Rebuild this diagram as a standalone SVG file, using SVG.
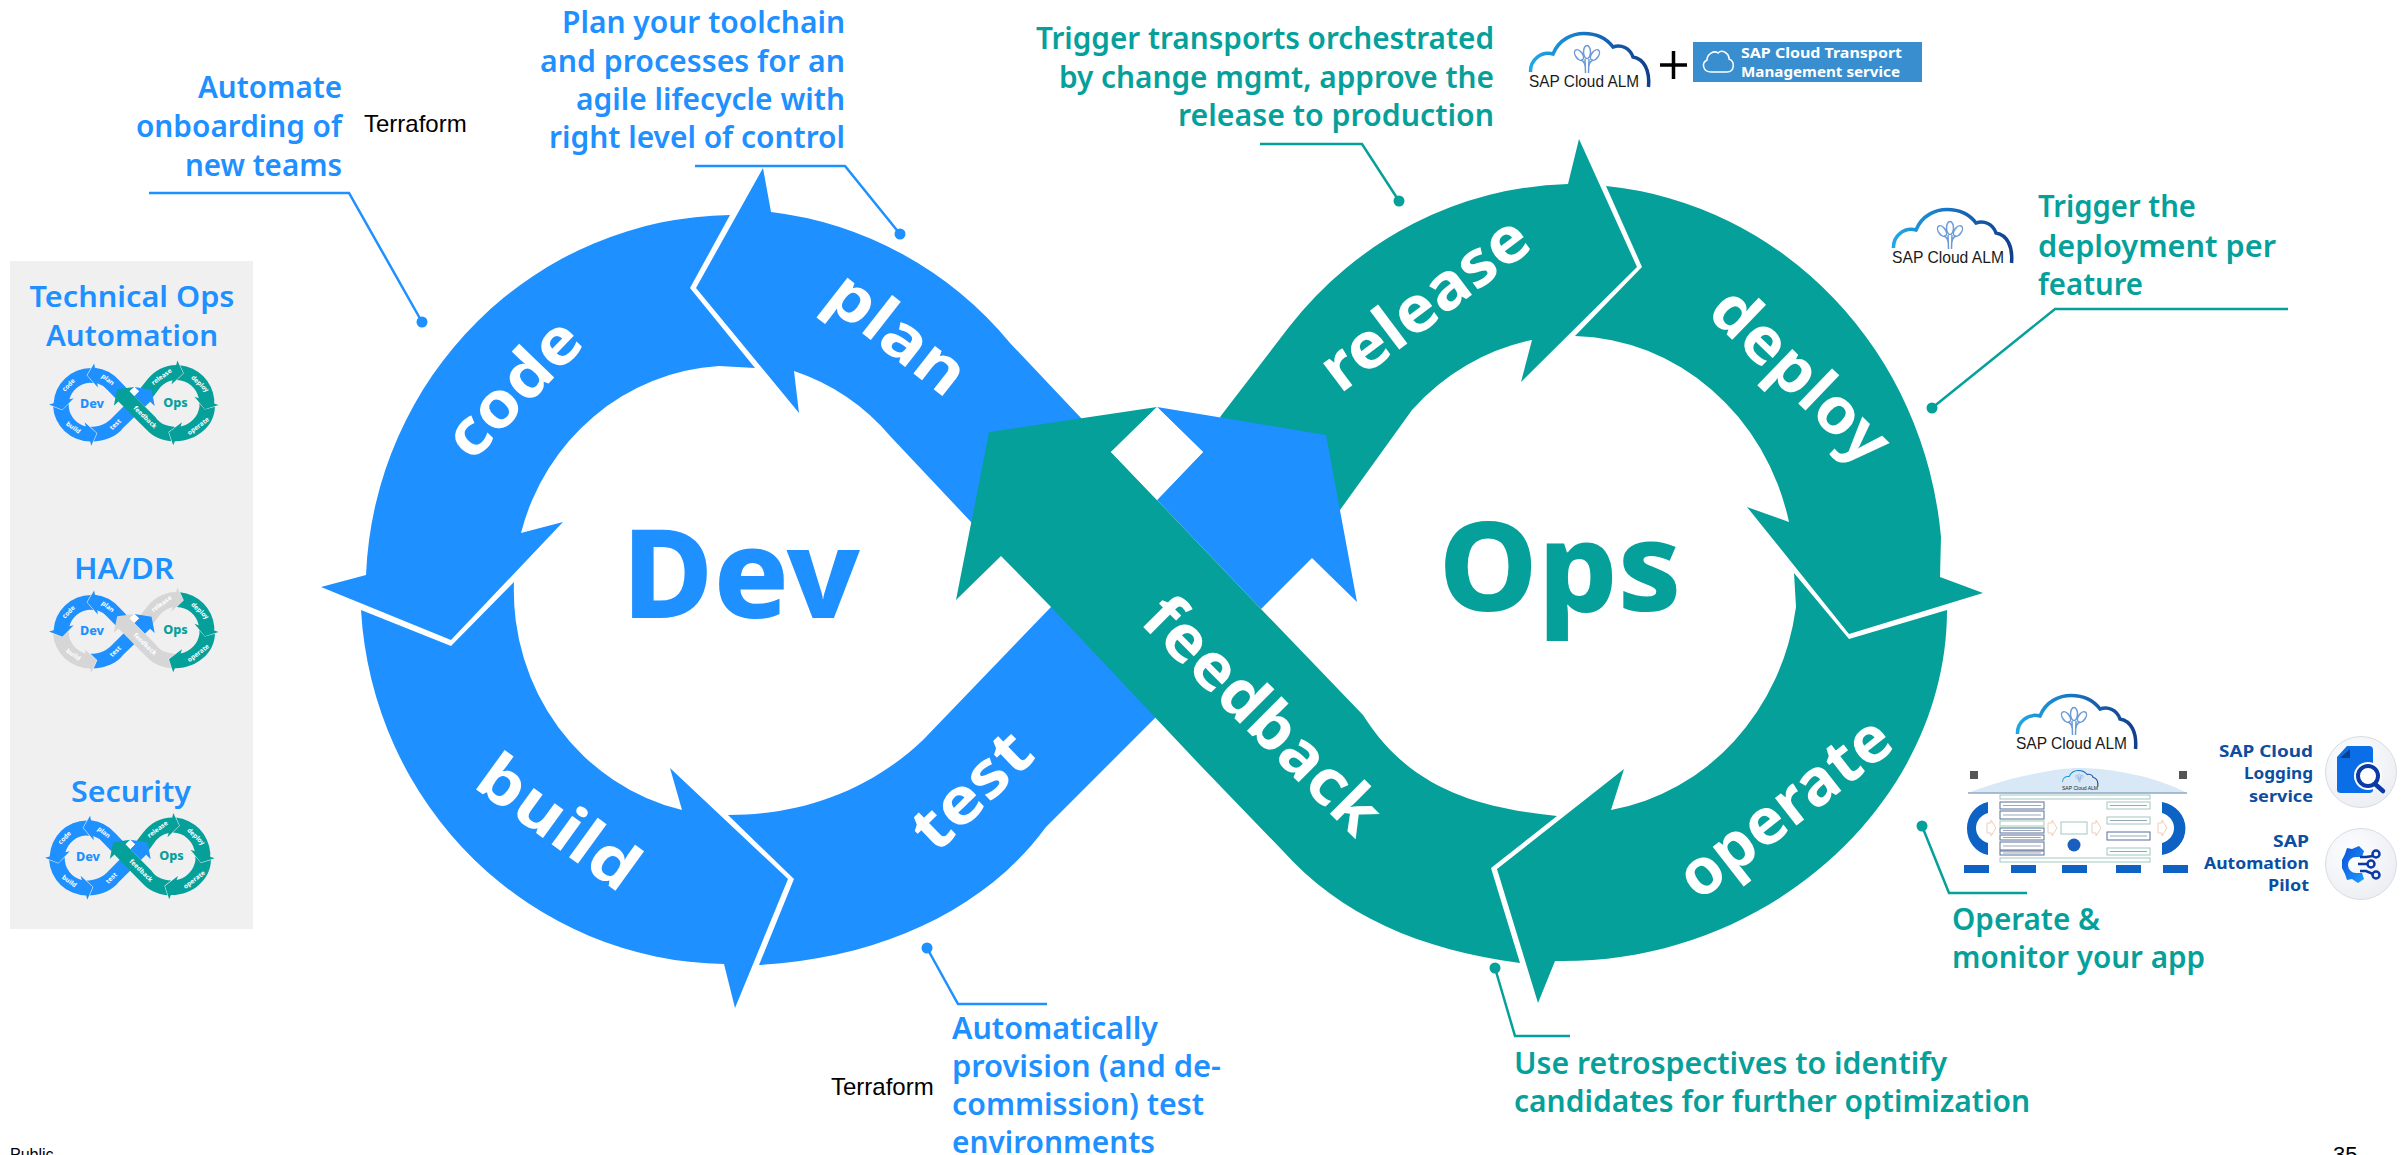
<svg xmlns="http://www.w3.org/2000/svg" xmlns:xlink="http://www.w3.org/1999/xlink" width="2408" height="1155" viewBox="0 0 2408 1155">
<style>
text{font-family:"Noto Sans","Open Sans",sans-serif}
.b{fill:#1e90ff}.t{fill:#06a09b}.g{fill:#d6d6d6}
.an{font-size:31px;font-weight:600}
.end{text-anchor:end}
.band{font-size:64px;font-weight:700;fill:#fff;text-anchor:middle}
.big{font-size:124px;font-weight:800;text-anchor:middle}
.arial{font-family:"Liberation Sans",Arial,sans-serif;fill:#000}
.side{font-size:28px;font-weight:600;fill:#1e90ff;text-anchor:middle}
.ld{fill:none;stroke-width:2.5}
.navy{fill:#0b4ea2;font-size:16px;font-weight:700;text-anchor:end}
.alm{font-family:"Liberation Sans",Arial,sans-serif;font-size:16.5px;fill:#1a1a1a}
.bx{fill:#fff;stroke:#9fc9c0;stroke-width:1}
.bn{fill:#fff;stroke:#5a6f96;stroke-width:1}
.db{fill:#0d62c4}
.ch{fill:#fff;stroke:#f0cdb8;stroke-width:1}
.tl{stroke:#9aa7b8;stroke-width:1;fill:none}
</style>
<defs>
<marker id="dot-b" markerUnits="userSpaceOnUse" markerWidth="14" markerHeight="14" refX="7" refY="7"><circle cx="7" cy="7" r="5.5" fill="#1e90ff"/></marker>
<marker id="dot-t" markerUnits="userSpaceOnUse" markerWidth="14" markerHeight="14" refX="7" refY="7"><circle cx="7" cy="7" r="5.5" fill="#06a09b"/></marker>
<linearGradient id="cg" x1="0" x2="1" y1="0" y2="0"><stop offset="0" stop-color="#1fa8e6"/><stop offset=".5" stop-color="#1670bf"/><stop offset="1" stop-color="#123f8c"/></linearGradient>
<radialGradient id="disc" cx=".4" cy=".35" r=".8"><stop offset="0" stop-color="#fff"/><stop offset="1" stop-color="#e8ebf1"/></radialGradient>
<linearGradient id="gear" x1="0" x2="1" y1="0" y2="1"><stop offset="0" stop-color="#0a50d8"/><stop offset="1" stop-color="#1e9cff"/></linearGradient>
<g id="cloud" fill="none">
<path d="M1.500 40C1 28 12 19 24 22C30 7 44 1.500 55 1.500C68 1.500 78 7 84 15C92 12 101 16 104 25C115 27 121 38 119.500 55" stroke="url(#cg)" stroke-width="3.500"/>
<g stroke="#6a9bd8" stroke-width="1.500"><ellipse cx="58" cy="20" rx="3.500" ry="6.500"/><ellipse cx="50" cy="23" rx="3.500" ry="6" transform="rotate(-35 50 23)"/><ellipse cx="66" cy="23" rx="3.500" ry="6" transform="rotate(35 66 23)"/><path d="M56 27L56.500 41M60 27L59.500 41M52 28Q56 30 56 34M64 28Q60 30 60 34"/></g>
</g>
<path id="s-plan" d="M771 212A369 376 0 0 1 1010 343L1081 418L1120 480L972 523L891 437A218 225 0 0 0 794 371L799 413L696 288L763 168Z"/>
<path id="s-code" d="M730 215A369 376 0 0 0 366 575L321 587L451 640L563 522L521 533A218 225 0 0 1 719 366L755 368L690 288Z"/>
<path id="s-build" d="M361 610A369 376 0 0 0 724 964L735 1008L788 879L670 768L682 810A218 225 0 0 1 514 582L451 646Z"/>
<path id="s-test" d="M759 965L794 879L728 815C795 815 865 795 923 740L1051 607L1110 600L1190 680L1155 718L1046 827C985 910 880 958 759 965ZM1157 407L1326 435L1357 602L1312 558L1261 609L1157 500L1203 452Z"/>
<path id="s-release" d="M1220 417L1289 327A372 389 0 0 1 1568 184L1579 139L1637 267L1521 382L1532 340A225 240 0 0 0 1412 410L1340 510L1300 500Z"/>
<path id="s-deploy" d="M1606 186A372 389 0 0 1 1941 537L1940 577L1983 593L1849 634L1747 507L1789 522A225 240 0 0 0 1575 336L1642 267Z"/>
<path id="s-operate" d="M1947 610C1947 800 1770 965 1555 961L1538 1003L1497 869L1624 769L1611 810A225 240 0 0 0 1796 607L1794 573L1849 639Z"/>
<path id="s-feedback" d="M989 432L1157 407L1111 452L1157 500L1261 609L1363 715C1410 790 1480 808 1557 816L1491 868L1520 963C1420 950 1340 915 1282 850L1200 765L1051 607L1001 556L956 600Z"/>
<path id="s-gap" d="M1157 407L1203 452L1157 500L1111 452Z"/>
</defs>
<rect width="2408" height="1155" fill="#fff"/>

<g id="side-panel"><rect x="10" y="261" width="243" height="668" fill="#f0f0f0"/>
<text class="side" x="132" y="307" textLength="205" lengthAdjust="spacingAndGlyphs">Technical Ops</text><text class="side" x="132" y="346" textLength="172" lengthAdjust="spacingAndGlyphs">Automation</text>
<text class="side" x="124" y="579" textLength="100" lengthAdjust="spacingAndGlyphs">HA/DR</text><text class="side" x="131" y="802" textLength="120" lengthAdjust="spacingAndGlyphs">Security</text></g>

<g id="mini-technical-ops" transform="translate(16.300 347) scale(.102 .098)">
<use href="#s-plan" class="b"/><use href="#s-release" class="t"/><use href="#s-test" class="b"/><use href="#s-feedback" class="t"/><use href="#s-deploy" class="t"/><use href="#s-operate" class="t"/><use href="#s-code" class="b"/><use href="#s-build" class="b"/><use href="#s-gap" fill="#fff"/>
<text class="big b" x="742" y="618">Dev</text><text class="big t" x="1560" y="610">Ops</text>
<text class="band" transform="translate(514 389) rotate(-46)" y="20">code</text><text class="band" transform="translate(897 334) rotate(38)" y="20">plan</text><text class="band" transform="translate(558 823) rotate(36)" y="20">build</text><text class="band" transform="translate(972 791) rotate(-44)" y="20">test</text><text class="band" transform="translate(1425 304) rotate(-37)" y="20">release</text><text class="band" transform="translate(1800 376) rotate(44)" y="20">deploy</text><text class="band" transform="translate(1262 716) rotate(45)" y="20">feedback</text><text class="band" transform="translate(1785 808) rotate(-38)" y="20">operate</text>
</g>
<g id="mini-ha-dr" transform="translate(16.300 574) scale(.102 .098)">
<use href="#s-plan" class="b"/><use href="#s-release" class="g"/><use href="#s-test" class="b"/><use href="#s-feedback" class="g"/><use href="#s-deploy" class="t"/><use href="#s-operate" class="t"/><use href="#s-code" class="b"/><use href="#s-build" class="g"/><use href="#s-gap" fill="#fff"/>
<text class="big b" x="742" y="618">Dev</text><text class="big t" x="1560" y="610">Ops</text>
<text class="band" transform="translate(514 389) rotate(-46)" y="20">code</text><text class="band" transform="translate(897 334) rotate(38)" y="20">plan</text><text class="band" transform="translate(558 823) rotate(36)" y="20">build</text><text class="band" transform="translate(972 791) rotate(-44)" y="20">test</text><text class="band" transform="translate(1425 304) rotate(-37)" y="20">release</text><text class="band" transform="translate(1800 376) rotate(44)" y="20">deploy</text><text class="band" transform="translate(1262 716) rotate(45)" y="20">feedback</text><text class="band" transform="translate(1785 808) rotate(-38)" y="20">operate</text>
</g>
<g id="mini-security" transform="translate(12.300 799) scale(.102 .1)">
<use href="#s-plan" class="b"/><use href="#s-release" class="t"/><use href="#s-test" class="b"/><use href="#s-feedback" class="t"/><use href="#s-deploy" class="t"/><use href="#s-operate" class="t"/><use href="#s-code" class="b"/><use href="#s-build" class="b"/><use href="#s-gap" fill="#fff"/>
<text class="big b" x="742" y="618">Dev</text><text class="big t" x="1560" y="610">Ops</text>
<text class="band" transform="translate(514 389) rotate(-46)" y="20">code</text><text class="band" transform="translate(897 334) rotate(38)" y="20">plan</text><text class="band" transform="translate(558 823) rotate(36)" y="20">build</text><text class="band" transform="translate(972 791) rotate(-44)" y="20">test</text><text class="band" transform="translate(1425 304) rotate(-37)" y="20">release</text><text class="band" transform="translate(1800 376) rotate(44)" y="20">deploy</text><text class="band" transform="translate(1262 716) rotate(45)" y="20">feedback</text><text class="band" transform="translate(1785 808) rotate(-38)" y="20">operate</text>
</g>

<g id="node-plan"><use href="#s-plan" class="b"/><text class="band" transform="translate(897 334) rotate(38)" y="21" textLength="158" lengthAdjust="spacingAndGlyphs">plan</text></g>
<g id="node-release"><use href="#s-release" class="t"/><text class="band" transform="translate(1425 304) rotate(-37)" y="21" textLength="244" lengthAdjust="spacingAndGlyphs">release</text></g>
<g id="node-test"><use href="#s-test" class="b"/><text class="band" transform="translate(972 791) rotate(-44)" y="21" textLength="141" lengthAdjust="spacingAndGlyphs">test</text></g>
<g id="node-feedback"><use href="#s-feedback" class="t"/><text class="band" transform="translate(1262 716) rotate(45)" y="21" textLength="307" lengthAdjust="spacingAndGlyphs">feedback</text><use href="#s-gap" fill="#fff"/></g>
<g id="node-deploy"><use href="#s-deploy" class="t"/><text class="band" transform="translate(1800 376) rotate(44)" y="21" textLength="222" lengthAdjust="spacingAndGlyphs">deploy</text></g>
<g id="node-operate"><use href="#s-operate" class="t"/><text class="band" transform="translate(1785 808) rotate(-38)" y="21" textLength="252" lengthAdjust="spacingAndGlyphs">operate</text></g>
<g id="node-code"><use href="#s-code" class="b"/><text class="band" transform="translate(514 389) rotate(-46)" y="21" textLength="166" lengthAdjust="spacingAndGlyphs">code</text></g>
<g id="node-build"><use href="#s-build" class="b"/><text class="band" transform="translate(558 823) rotate(36)" y="21" textLength="183" lengthAdjust="spacingAndGlyphs">build</text></g>
<g id="node-dev"><text class="big b" x="741" y="618" textLength="238" lengthAdjust="spacingAndGlyphs">Dev</text></g>
<g id="node-ops"><text class="big t" x="1560" y="611" textLength="243" lengthAdjust="spacingAndGlyphs">Ops</text></g>

<g id="connectors">
<path class="ld" stroke="#1e90ff" marker-end="url(#dot-b)" d="M149 193H349L422 322"/>
<path class="ld" stroke="#1e90ff" marker-end="url(#dot-b)" d="M695 166H845L900 234"/>
<path class="ld" stroke="#1e90ff" marker-end="url(#dot-b)" d="M1047 1004H958L927 948"/>
<path class="ld" stroke="#06a09b" marker-end="url(#dot-t)" d="M1260 144H1362L1399 201"/>
<path class="ld" stroke="#06a09b" marker-end="url(#dot-t)" d="M2288 309H2055L1932 408"/>
<path class="ld" stroke="#06a09b" marker-end="url(#dot-t)" d="M2027 893H1949L1922 826"/>
<path class="ld" stroke="#06a09b" marker-end="url(#dot-t)" d="M1570 1036H1515L1495 968"/>
</g>

<g id="note-automate" class="b"><text class="an end" x="342" y="98" textLength="144" lengthAdjust="spacingAndGlyphs">Automate</text><text class="an end" x="342" y="137" textLength="206" lengthAdjust="spacingAndGlyphs">onboarding of</text><text class="an end" x="342" y="176" textLength="157" lengthAdjust="spacingAndGlyphs">new teams</text></g>
<g id="note-plan" class="b"><text class="an end" x="845" y="33" textLength="283" lengthAdjust="spacingAndGlyphs">Plan your toolchain</text><text class="an end" x="845" y="72" textLength="305" lengthAdjust="spacingAndGlyphs">and processes for an</text><text class="an end" x="845" y="110" textLength="269" lengthAdjust="spacingAndGlyphs">agile lifecycle with</text><text class="an end" x="845" y="148" textLength="296" lengthAdjust="spacingAndGlyphs">right level of control</text></g>
<g id="note-release" class="t"><text class="an end" x="1494" y="49" textLength="458" lengthAdjust="spacingAndGlyphs">Trigger transports orchestrated</text><text class="an end" x="1494" y="88" textLength="435" lengthAdjust="spacingAndGlyphs">by change mgmt, approve the</text><text class="an end" x="1494" y="126" textLength="316" lengthAdjust="spacingAndGlyphs">release to production</text></g>
<g id="note-deploy" class="t"><text class="an" x="2038" y="217" textLength="158" lengthAdjust="spacingAndGlyphs">Trigger the</text><text class="an" x="2038" y="257" textLength="238" lengthAdjust="spacingAndGlyphs">deployment per</text><text class="an" x="2038" y="295" textLength="105" lengthAdjust="spacingAndGlyphs">feature</text></g>
<g id="note-test" class="b"><text class="an" x="952" y="1039" textLength="206" lengthAdjust="spacingAndGlyphs">Automatically</text><text class="an" x="952" y="1077" textLength="269" lengthAdjust="spacingAndGlyphs">provision (and de-</text><text class="an" x="952" y="1115" textLength="252" lengthAdjust="spacingAndGlyphs">commission) test</text><text class="an" x="952" y="1153" textLength="203" lengthAdjust="spacingAndGlyphs">environments</text></g>
<g id="note-feedback" class="t"><text class="an" x="1514" y="1074" textLength="433" lengthAdjust="spacingAndGlyphs">Use retrospectives to identify</text><text class="an" x="1514" y="1112" textLength="516" lengthAdjust="spacingAndGlyphs">candidates for further optimization</text></g>
<g id="note-operate" class="t"><text class="an" x="1952" y="930" textLength="148" lengthAdjust="spacingAndGlyphs">Operate &amp;</text><text class="an" x="1952" y="968" textLength="253" lengthAdjust="spacingAndGlyphs">monitor your app</text></g>

<g id="terraform-1"><text class="arial" x="364" y="132" font-size="24">Terraform</text></g>
<g id="terraform-2"><text class="arial" x="831" y="1095" font-size="24">Terraform</text></g>

<g id="alm-top"><use href="#cloud" x="1529" y="32"/><text class="alm" x="1529" y="87" textLength="110" lengthAdjust="spacingAndGlyphs">SAP Cloud ALM</text></g>
<path id="plus" d="M1660 65H1687M1673.500 51V79" stroke="#000" stroke-width="3.500" fill="none"/>
<g id="transport-service"><rect x="1693" y="42" width="229" height="40" fill="#388ecf"/>
<path d="M1711 72C1703 72 1701 63 1707 60C1707 54 1714 50 1718 53C1722 49 1729 53 1729 59C1735 61 1735 72 1727 72Z" fill="none" stroke="#fff" stroke-width="1.500"/>
<text x="1741" y="58" font-size="14" font-weight="700" fill="#fff" textLength="161" lengthAdjust="spacingAndGlyphs">SAP Cloud Transport</text><text x="1741" y="77" font-size="14" font-weight="700" fill="#fff" textLength="159" lengthAdjust="spacingAndGlyphs">Management service</text></g>
<g id="alm-deploy"><use href="#cloud" x="1892" y="208"/><text class="alm" x="1892" y="263" textLength="112" lengthAdjust="spacingAndGlyphs">SAP Cloud ALM</text></g>
<g id="alm-operate"><use href="#cloud" x="2016" y="694"/><text class="alm" x="2016" y="749" textLength="111" lengthAdjust="spacingAndGlyphs">SAP Cloud ALM</text></g>

<g id="alm-dashboard">
<path d="M1968 793C2010 776 2060 768 2078 768C2110 768 2155 776 2187 793Z" fill="#d8e8f6"/><path d="M1968 793H2187" stroke="#8fa9c4" stroke-width="1.500"/>
<g transform="translate(2062 770) scale(.3)"><use href="#cloud"/></g>
<text class="alm" x="2062" y="790" style="font-size:5.500px" textLength="36" lengthAdjust="spacingAndGlyphs">SAP Cloud ALM</text>
<path d="M1988 802A26 27 0 0 0 1988 855V843C1972 838 1972 818 1988 813Z" class="db"/><path d="M2162 802A29 27 0 0 1 2162 855V843C2178 838 2178 818 2162 813Z" class="db"/>
<rect class="bx" x="2000" y="795" width="150" height="4"/><rect class="bx" x="2000" y="858" width="150" height="4"/>
<rect class="bn" x="2000" y="802" width="44" height="7"/><rect class="bn" x="2000" y="811" width="44" height="8"/><rect class="bx" x="2000" y="821" width="44" height="5"/><rect class="bn" x="2000" y="828" width="44" height="5"/><rect class="bn" x="2000" y="835" width="44" height="5"/><rect class="bn" x="2000" y="842" width="44" height="8"/><rect class="bn" x="2000" y="851" width="44" height="4"/>
<rect class="bx" x="2061" y="822" width="26" height="12"/>
<rect class="bx" x="2107" y="802" width="43" height="7"/><rect class="bx" x="2107" y="817" width="43" height="7"/><rect class="bn" x="2107" y="832" width="43" height="8"/><rect class="bx" x="2107" y="848" width="43" height="7"/>
<path class="ch" d="M1987 823h4v-3l5 8l-5 8v-3h-4z"/><path class="ch" d="M2048 823h4v-3l5 8l-5 8v-3h-4z"/><path class="ch" d="M2092 823h4v-3l5 8l-5 8v-3h-4z"/><path class="ch" d="M2158 823h4v-3l5 8l-5 8v-3h-4z"/>
<circle cx="2074" cy="845" r="6.500" fill="#1a5fc0"/>
<rect class="db" x="1964" y="865" width="25" height="8"/><rect class="db" x="2011" y="865" width="25" height="8"/><rect class="db" x="2062" y="865" width="25" height="8"/><rect class="db" x="2116" y="865" width="25" height="8"/><rect class="db" x="2163" y="865" width="25" height="8"/>
<rect x="1970" y="771" width="8" height="8" fill="#555"/><rect x="2179" y="771" width="8" height="8" fill="#555"/>
<path class="tl" d="M2003 805.500h38M2003 815h38M2003 830.500h38M2003 837.500h38M2003 846h38M2003 853h38M2110 805.500h37M2110 820.500h37M2110 836h37M2110 851.500h37"/>
</g>

<g id="logging-service"><text class="navy" x="2313" y="757" textLength="94" lengthAdjust="spacingAndGlyphs">SAP Cloud</text><text class="navy" x="2313" y="779" textLength="69" lengthAdjust="spacingAndGlyphs">Logging</text><text class="navy" x="2313" y="802" textLength="64" lengthAdjust="spacingAndGlyphs">service</text>
<circle cx="2361" cy="772" r="35.500" fill="url(#disc)" stroke="#d8dce3"/>
<path d="M2347 746H2369Q2373 746 2373 750V790Q2373 793 2369 793H2341Q2337 793 2337 790V757Z" fill="#0a6ee8"/><path d="M2340 758L2350 749V758Z" fill="#0b3f8f"/>
<circle cx="2368" cy="776" r="14" fill="#fff"/><circle cx="2368" cy="776" r="10" fill="none" stroke="#0b3aa6" stroke-width="4"/><path d="M2375 784L2383 791" stroke="#0b3aa6" stroke-width="4.500" stroke-linecap="round"/></g>
<g id="automation-pilot"><text class="navy" x="2309" y="847" textLength="36" lengthAdjust="spacingAndGlyphs">SAP</text><text class="navy" x="2309" y="869" textLength="105" lengthAdjust="spacingAndGlyphs">Automation</text><text class="navy" x="2309" y="891" textLength="41" lengthAdjust="spacingAndGlyphs">Pilot</text>
<circle cx="2361" cy="864" r="35.500" fill="url(#disc)" stroke="#d8dce3"/>
<path d="M2359 846L2364 851L2362 857H2356A8 8 0 0 0 2356 873H2362L2364 879L2358 883L2352 879L2347 880L2345 874L2342 868V860L2345 854L2347 848L2352 849Z" fill="url(#gear)"/>
<g fill="none" stroke="#0b3aa6" stroke-width="2.500"><circle cx="2376" cy="854" r="3.500"/><circle cx="2371" cy="864" r="3.500"/><circle cx="2376" cy="875" r="3.500"/><path d="M2360 857L2366 857L2373 856M2358 864H2367M2360 871H2366L2373 874"/></g></g>

<g id="footer"><text class="arial" x="10" y="1160" font-size="16">Public</text><text class="arial" x="2333" y="1162" font-size="22">35</text></g>
</svg>
